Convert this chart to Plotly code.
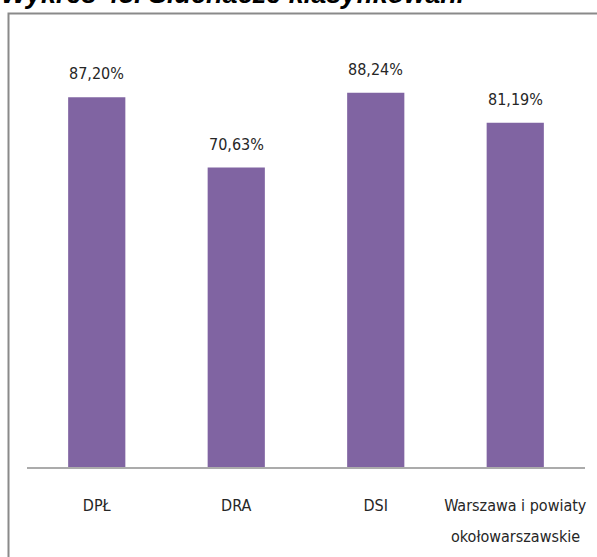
import plotly.graph_objects as go

categories = ["DPŁ", "DRA", "DSI", "Warszawa i powiaty okołowarszawskie"]
tick_line1 = ["DPŁ", "DRA", "DSI", "Warszawa i powiaty"]
tick_line2 = ["", "", "", "okołowarszawskie"]
values = [87.20, 70.63, 88.24, 81.19]
value_labels = ["87,20%", "70,63%", "88,24%", "81,19%"]
title_text = "Wykres 48. Słuchacze klasyfikowani"

W, H = 597, 557
L, R, T, B = 27, 12, 43, 90
pw, ph = W - L - R, H - T - B

def px_x(p):
    return (p - L) / pw

def px_y(p):
    return (H - B - p) / ph

narrow = "DejaVu Sans Condensed, Liberation Sans Narrow, sans-serif"
text_col = "#262626"
fs = 16

fig = go.Figure()
fig.add_trace(go.Bar(
    x=categories, y=values,
    marker=dict(color="#8064A2", line=dict(width=0)),
    width=0.41,
    hoverinfo="skip",
))

for c, v, t in zip(categories, values, value_labels):
    fig.add_annotation(x=c, y=v, xref="x", yref="y", text=t, showarrow=False,
                       yanchor="bottom", yshift=12,
                       font=dict(family=narrow, size=fs, color=text_col))

for c, t in zip(categories, tick_line2):
    if t:
        fig.add_annotation(x=c, y=px_y(548), xref="x", yref="paper", text=t,
                           showarrow=False, yanchor="bottom",
                           font=dict(family=narrow, size=fs, color=text_col))

fig.add_annotation(x=px_x(-1), y=px_y(11.5), xref="paper", yref="paper",
                   xanchor="left", yanchor="bottom", showarrow=False,
                   text="<b><i>" + title_text + "</i></b>",
                   font=dict(family="Liberation Sans, Arial, sans-serif", size=27, color="#000000"))

fig.add_shape(type="rect", xref="paper", yref="paper",
              x0=px_x(8.5), x1=1.2, y0=-0.6, y1=px_y(13.5),
              line=dict(color="#8a8a8a", width=2), fillcolor="rgba(0,0,0,0)", layer="below")

fig.update_layout(
    width=W, height=H,
    margin=dict(l=L, r=R, t=T, b=B, pad=0, autoexpand=False),
    paper_bgcolor="white", plot_bgcolor="white",
    showlegend=False,
    xaxis=dict(showline=True, linecolor="#ababab", linewidth=1.5, showgrid=False,
               tickmode="array", tickvals=categories, ticktext=tick_line1,
               ticks="", tickfont=dict(family=narrow, size=fs, color=text_col),
               ticklabelstandoff=23, automargin=False, fixedrange=True),
    yaxis=dict(range=[0, 100], visible=False, showgrid=False, automargin=False,
               fixedrange=True),
)

fig.write_html("out.html", config={"displayModeBar": False},
               post_script="document.body.style.margin='0';")
